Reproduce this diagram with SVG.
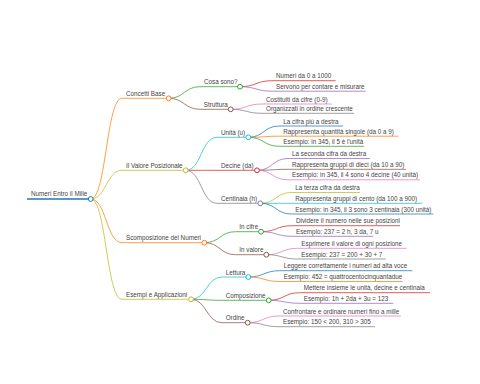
<svg xmlns="http://www.w3.org/2000/svg" width="480" height="384" viewBox="0 0 480 384">
<style>
text{font-family:"Liberation Sans",Arial,sans-serif;font-size:6.3px;fill:#444}
path{fill:none;stroke-width:1}
circle{fill:#fff;stroke-width:1}
.c0{stroke:#1f77b4}.c1{stroke:#ff7f0e}.c2{stroke:#2ca02c}.c3{stroke:#d62728}.c4{stroke:#9467bd}
.c5{stroke:#8c564b}.c6{stroke:#e377c2}.c7{stroke:#7f7f7f}.c8{stroke:#bcbd22}.c9{stroke:#17becf}
#links path,.ul{opacity:0.75}
</style>
<rect width="480" height="384" fill="#fff"/>
<g id="links">
<path class="c1" d="M90.7 199C106.3 199 106.3 98.3 122 98.3"/>
<path class="c8" d="M90.7 199C106.3 199 106.3 170.3 122 170.3"/>
<path class="c1" d="M90.7 199C106.3 199 106.3 242.7 122 242.7"/>
<path class="c8" d="M90.7 199C106.3 199 106.3 299.3 122 299.3"/>
<path class="c2" d="M168.7 98.3C184.3 98.3 184.3 86.7 200 86.7"/>
<path class="c5" d="M168.7 98.3C184.3 98.3 184.3 109.3 200 109.3"/>
<path class="c9" d="M185.7 170.3C201.3 170.3 201.3 137.3 217 137.3"/>
<path class="c3" d="M185.7 170.3C201.3 170.3 201.3 170.3 217 170.3"/>
<path class="c7" d="M185.7 170.3C201.3 170.3 201.3 203.3 217 203.3"/>
<path class="c2" d="M204.3 242.7C220 242.7 220 231.7 235.5 231.7"/>
<path class="c5" d="M204.3 242.7C220 242.7 220 254.7 235.5 254.7"/>
<path class="c9" d="M191 299.3C206.5 299.3 206.5 277 222 277"/>
<path class="c2" d="M191 299.3C206.5 299.3 206.5 300.3 222 300.3"/>
<path class="c5" d="M191 299.3C206.5 299.3 206.5 322.7 222 322.7"/>
<path class="c3" d="M240 86.7C256 86.7 256 80.7 272 80.7"/>
<path class="c4" d="M240 86.7C256 86.7 256 91.2 272 91.2"/>
<path class="c6" d="M230.7 109.3C246.3 109.3 246.3 104 262 104"/>
<path class="c7" d="M230.7 109.3C246.3 109.3 246.3 113.3 262 113.3"/>
<path class="c0" d="M248.3 137.3C263.8 137.3 263.8 126 279.3 126"/>
<path class="c1" d="M248.3 137.3C263.8 137.3 263.8 136.2 279.3 136.2"/>
<path class="c2" d="M248.3 137.3C263.8 137.3 263.8 146.3 279.3 146.3"/>
<path class="c4" d="M257 170.3C272.5 170.3 272.5 158.5 288 158.5"/>
<path class="c5" d="M257 170.3C272.5 170.3 272.5 169.3 288 169.3"/>
<path class="c6" d="M257 170.3C272.5 170.3 272.5 179.8 288 179.8"/>
<path class="c8" d="M260.3 203.3C276 203.3 276 192.5 291.3 192.5"/>
<path class="c9" d="M260.3 203.3C276 203.3 276 203.3 291.3 203.3"/>
<path class="c0" d="M260.3 203.3C276 203.3 276 214 291.3 214"/>
<path class="c3" d="M261 231.7C276.5 231.7 276.5 225.7 292 225.7"/>
<path class="c4" d="M261 231.7C276.5 231.7 276.5 236.3 292 236.3"/>
<path class="c6" d="M266.3 254.7C282 254.7 282 248.3 297.3 248.3"/>
<path class="c7" d="M266.3 254.7C282 254.7 282 259 297.3 259"/>
<path class="c0" d="M248.3 277C264 277 264 270.7 279.7 270.7"/>
<path class="c1" d="M248.3 277C264 277 264 281.5 279.7 281.5"/>
<path class="c3" d="M268.7 300.3C284.2 300.3 284.2 292.7 299.7 292.7"/>
<path class="c4" d="M268.7 300.3C284.2 300.3 284.2 303.3 299.7 303.3"/>
<path class="c6" d="M247.7 322.7C263.3 322.7 263.3 316 279 316"/>
<path class="c7" d="M247.7 322.7C263.3 322.7 263.3 326.7 279 326.7"/>
</g>
<g id="root"><path class="c0" style="stroke-width:1.5" d="M27 199H90.7"/><circle class="c0" cx="90.7" cy="199" r="2.4"/><text x="31" y="196.4">Numeri Entro il Mille</text></g>
<g id="concetti"><path class="c1 ul" d="M122 98.3H168.7"/><circle class="c1" cx="168.7" cy="98.3" r="2.4"/><text x="126" y="95.9">Concetti Base</text></g>
<g id="valore"><path class="c8 ul" d="M122 170.3H185.7"/><circle class="c8" cx="185.7" cy="170.3" r="2.4"/><text x="126" y="167.9">Il Valore Posizionale</text></g>
<g id="scomposizione"><path class="c1 ul" d="M122 242.7H204.3"/><circle class="c1" cx="204.3" cy="242.7" r="2.4"/><text x="126" y="240.3">Scomposizione dei Numeri</text></g>
<g id="esempi"><path class="c8 ul" d="M122 299.3H191"/><circle class="c8" cx="191" cy="299.3" r="2.4"/><text x="126" y="296.9">Esempi e Applicazioni</text></g>
<g id="cosa"><path class="c2 ul" d="M200 86.7H240"/><circle class="c2" cx="240" cy="86.7" r="2.4"/><text x="204" y="84.3">Cosa sono?</text></g>
<g id="struttura"><path class="c5 ul" d="M200 109.3H230.7"/><circle class="c5" cx="230.7" cy="109.3" r="2.4"/><text x="203.7" y="106.9">Struttura</text></g>
<g id="unita"><path class="c9 ul" d="M217 137.3H248.3"/><circle class="c9" cx="248.3" cy="137.3" r="2.4"/><text x="221" y="134.9">Unità (u)</text></g>
<g id="decine"><path class="c3 ul" d="M217 170.3H257"/><circle class="c3" cx="257" cy="170.3" r="2.4"/><text x="221" y="167.9">Decine (da)</text></g>
<g id="centinaia"><path class="c7 ul" d="M217 203.3H260.3"/><circle class="c7" cx="260.3" cy="203.3" r="2.4"/><text x="221" y="200.9">Centinaia (h)</text></g>
<g id="incifre"><path class="c2 ul" d="M235.5 231.7H261"/><circle class="c2" cx="261" cy="231.7" r="2.4"/><text x="239.3" y="229.3">In cifre</text></g>
<g id="invalore"><path class="c5 ul" d="M235.5 254.7H266.3"/><circle class="c5" cx="266.3" cy="254.7" r="2.4"/><text x="239.3" y="252.3">In valore</text></g>
<g id="lettura"><path class="c9 ul" d="M222 277H248.3"/><circle class="c9" cx="248.3" cy="277" r="2.4"/><text x="225.7" y="274.6">Lettura</text></g>
<g id="composizione"><path class="c2 ul" d="M222 300.3H268.7"/><circle class="c2" cx="268.7" cy="300.3" r="2.4"/><text x="225.7" y="297.9">Composizione</text></g>
<g id="ordine"><path class="c5 ul" d="M222 322.7H247.7"/><circle class="c5" cx="247.7" cy="322.7" r="2.4"/><text x="225.7" y="320.3">Ordine</text></g>
<g id="l1"><path class="c3 ul" d="M272 80.7H335.7"/><text x="276" y="78.3">Numeri da 0 a 1000</text></g>
<g id="l2"><path class="c4 ul" d="M272 91.2H365.7"/><text x="276" y="88.8">Servono per contare e misurare</text></g>
<g id="l3"><path class="c6 ul" d="M262 104H331.7"/><text x="266" y="101.6">Costituiti da cifre (0-9)</text></g>
<g id="l4"><path class="c7 ul" d="M262 113.3H354"/><text x="266" y="110.9">Organizzati in ordine crescente</text></g>
<g id="l5"><path class="c0 ul" d="M279.3 126H343"/><text x="283.3" y="123.6">La cifra più a destra</text></g>
<g id="l6"><path class="c1 ul" d="M279.3 136.2H398.3"/><text x="283.3" y="133.8">Rappresenta quantità singole (da 0 a 9)</text></g>
<g id="l7"><path class="c2 ul" d="M279.3 146.3H364"/><text x="283.3" y="143.9">Esempio: in 345, il 5 è l'unità</text></g>
<g id="l8"><path class="c4 ul" d="M288 158.5H370"/><text x="292" y="156.1">La seconda cifra da destra</text></g>
<g id="l9"><path class="c5 ul" d="M288 169.3H406"/><text x="292" y="166.9">Rappresenta gruppi di dieci (da 10 a 90)</text></g>
<g id="l10"><path class="c6 ul" d="M288 179.8H420"/><text x="292" y="177.4">Esempio: in 345, il 4 sono 4 decine (40 unità)</text></g>
<g id="l11"><path class="c8 ul" d="M291.3 192.5H360"/><text x="295.3" y="190.1">La terza cifra da destra</text></g>
<g id="l12"><path class="c9 ul" d="M291.3 203.3H422.3"/><text x="295.3" y="200.9">Rappresenta gruppi di cento (da 100 a 900)</text></g>
<g id="l13"><path class="c0 ul" d="M291.3 214H433.3"/><text x="295.3" y="211.6">Esempio: in 345, il 3 sono 3 centinaia (300 unità)</text></g>
<g id="l14"><path class="c3 ul" d="M292 225.7H400"/><text x="296" y="223.3">Dividere il numero nelle sue posizioni</text></g>
<g id="l15"><path class="c4 ul" d="M292 236.3H373.3"/><text x="296" y="233.9">Esempio: 237 = 2 h, 3 da, 7 u</text></g>
<g id="l16"><path class="c6 ul" d="M297.3 248.3H406.7"/><text x="301.3" y="245.9">Esprimere il valore di ogni posizione</text></g>
<g id="l17"><path class="c7 ul" d="M297.3 259H385.7"/><text x="301.3" y="256.6">Esempio: 237 = 200 + 30 + 7</text></g>
<g id="l18"><path class="c0 ul" d="M279.7 270.7H412.3"/><text x="283.7" y="268.3">Leggere correttamente i numeri ad alta voce</text></g>
<g id="l19"><path class="c1 ul" d="M279.7 281.5H402.7"/><text x="283.7" y="279.1">Esempio: 452 = quattrocentocinquantadue</text></g>
<g id="l20"><path class="c3 ul" d="M299.7 292.7H430"/><text x="303.7" y="290.3">Mettere insieme le unità, decine e centinaia</text></g>
<g id="l21"><path class="c4 ul" d="M299.7 303.3H393.3"/><text x="303.7" y="300.9">Esempio: 1h + 2da + 3u = 123</text></g>
<g id="l22"><path class="c6 ul" d="M279 316H400.7"/><text x="283" y="313.6">Confrontare e ordinare numeri fino a mille</text></g>
<g id="l23"><path class="c7 ul" d="M279 326.7H375"/><text x="283" y="324.3">Esempio: 150 &lt; 200, 310 &gt; 305</text></g>
</svg>
